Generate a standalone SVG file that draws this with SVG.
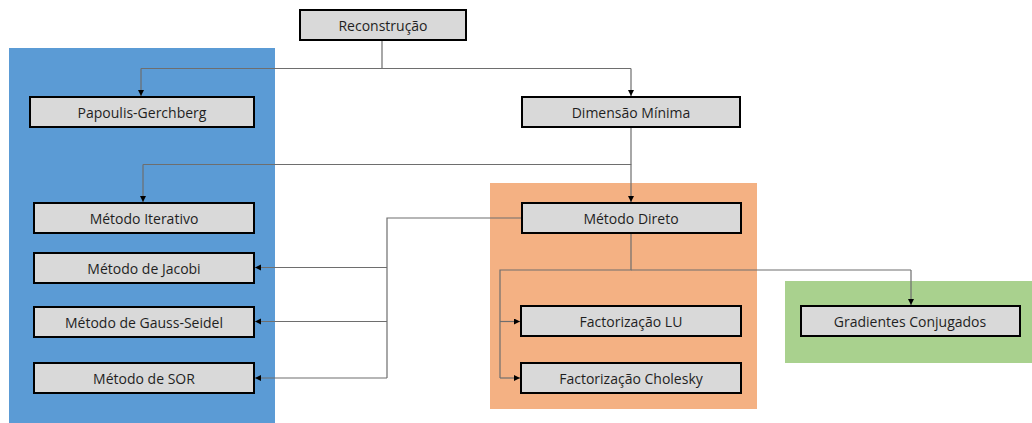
<svg xmlns="http://www.w3.org/2000/svg" width="1032" height="423" viewBox="0 0 1032 423">
  <style>
    .panel-blue { fill: #5b9bd5; }
    .panel-orange { fill: #f4b183; }
    .panel-green { fill: #a9d18e; }
    .box { fill: #d9d9d9; stroke: #000000; stroke-width: 2; }
    .label { font-family: "Open Sans", "Liberation Sans", sans-serif; font-size: 14px; fill: #1f1f1f; text-anchor: middle; dominant-baseline: central; }
    .wire { fill: none; stroke: #6e6e6e; stroke-width: 1.2; }
    .wire-arrow { fill: none; stroke: #6e6e6e; stroke-width: 1.2; marker-end: url(#head); }
  </style>
  <defs>
    <marker id="head" markerUnits="userSpaceOnUse" markerWidth="7" markerHeight="7" refX="6" refY="3" orient="auto">
      <path d="M0,0 L6,3 L0,6 z" fill="#000000"/>
    </marker>
  </defs>

  <rect width="1032" height="423" fill="#ffffff"/>

  <!-- background panels -->
  <g id="panels">
    <rect class="panel-blue" x="9" y="48" width="266" height="375"/>
    <rect class="panel-orange" x="490" y="183" width="267" height="226"/>
    <rect class="panel-green" x="785" y="281" width="247" height="82"/>
  </g>

  <!-- connectors -->
  <g id="connectors">
    <!-- Reconstrução -->
    <path class="wire" d="M382,40 V68.5 H141"/>
    <path class="wire-arrow" d="M141,68.5 V96"/>
    <path class="wire" d="M382,68.5 H631"/>
    <path class="wire-arrow" d="M631,68.5 V96"/>
    <!-- Dimensão Mínima -->
    <path class="wire" d="M631,127 V164.5 H143"/>
    <path class="wire-arrow" d="M143,164.5 V202"/>
    <path class="wire-arrow" d="M631,164.5 V202"/>
    <!-- Método Direto to iterative methods -->
    <path class="wire" d="M521,218 H387 V378"/>
    <path class="wire-arrow" d="M387,267.5 H255"/>
    <path class="wire-arrow" d="M387,321.5 H255"/>
    <path class="wire-arrow" d="M387,378 H255"/>
    <!-- Método Direto to factorizations and gradients -->
    <path class="wire" d="M631,233 V270 H500 V378"/>
    <path class="wire-arrow" d="M500,321.5 H520"/>
    <path class="wire-arrow" d="M500,378 H520"/>
    <path class="wire" d="M631,270 H911"/>
    <path class="wire-arrow" d="M911,270 V305"/>
  </g>

  <g id="reconstrucao">
    <rect class="box" x="300" y="10" width="166" height="30"/>
    <text class="label" x="383" y="25">Reconstrução</text>
  </g>
  <g id="papoulis-gerchberg">
    <rect class="box" x="30" y="97" width="224" height="30"/>
    <text class="label" x="142" y="112">Papoulis-Gerchberg</text>
  </g>
  <g id="dimensao-minima">
    <rect class="box" x="522" y="97" width="218" height="30"/>
    <text class="label" x="631" y="112">Dimensão Mínima</text>
  </g>
  <g id="metodo-iterativo">
    <rect class="box" x="34" y="203" width="220" height="30"/>
    <text class="label" x="144" y="218">Método Iterativo</text>
  </g>
  <g id="metodo-jacobi">
    <rect class="box" x="34" y="253" width="220" height="30"/>
    <text class="label" x="144" y="268">Método de Jacobi</text>
  </g>
  <g id="metodo-gauss-seidel">
    <rect class="box" x="34" y="307" width="220" height="30"/>
    <text class="label" x="144" y="322">Método de Gauss-Seidel</text>
  </g>
  <g id="metodo-sor">
    <rect class="box" x="34" y="363" width="220" height="30"/>
    <text class="label" x="144" y="378">Método de SOR</text>
  </g>
  <g id="metodo-direto">
    <rect class="box" x="522" y="203" width="219" height="30"/>
    <text class="label" x="631" y="218">Método Direto</text>
  </g>
  <g id="factorizacao-lu">
    <rect class="box" x="521" y="306" width="220" height="30"/>
    <text class="label" x="631" y="321">Factorização LU</text>
  </g>
  <g id="factorizacao-cholesky">
    <rect class="box" x="521" y="363" width="220" height="30"/>
    <text class="label" x="631" y="378">Factorização Cholesky</text>
  </g>
  <g id="gradientes-conjugados">
    <rect class="box" x="801" y="306" width="219" height="30"/>
    <text class="label" x="910" y="321">Gradientes Conjugados</text>
  </g>
</svg>
